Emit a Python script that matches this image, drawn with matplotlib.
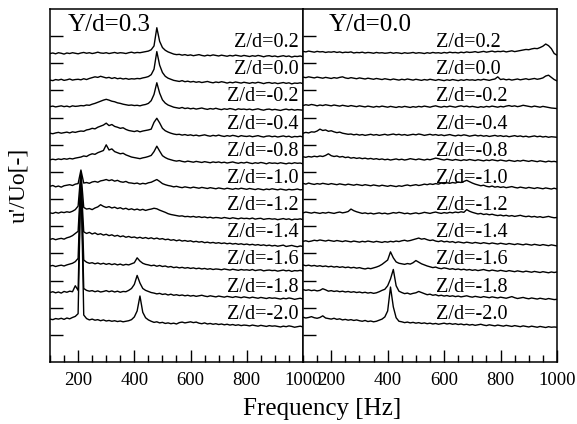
import numpy as np
import matplotlib
matplotlib.use("Agg")
import matplotlib.pyplot as plt
from matplotlib.ticker import MultipleLocator

plt.rcParams['font.family'] = ['Liberation Serif', 'DejaVu Serif']

# frequency grid of the traces, 100..1000 Hz every 10 Hz
freq = np.arange(100, 1001, 10)

z_labels = ["Z/d=0.2", "Z/d=0.0", "Z/d=-0.2", "Z/d=-0.4", "Z/d=-0.8", "Z/d=-1.0",
            "Z/d=-1.2", "Z/d=-1.4", "Z/d=-1.6", "Z/d=-1.8", "Z/d=-2.0"]
panel_titles = ["Y/d=0.3", "Y/d=0.0"]

# amplitudes, in hundredths of one offset step
# ---- Y/d=0.3 ----
L_02 = [0, 2, -1, 3, 1, -2, 2, 0, 3, 1,
        -1, 2, 4, 1, 3, 0, 2, 5, 2, 1,
        3, 0, 2, 4, 1, 3, 2, 0, 3, 5,
        2, 4, 3, 5, 7, 9, 14, 28, 95, 45,
        22, 12, 6, 2, -2, -4, -3, -6, -4, -7,
        -5, -8, -6, -4, -7, -9, -6, -8, -5, -7,
        -9, -6, -8, -10, -7, -9, -6, -8, -10, -7,
        -9, -11, -8, -10, -7, -9, -12, -9, -8, -11,
        -9, -12, -10, -8, -11, -9, -13, -10, -11, -9,
        -12]
L_00 = [0, -2, 2, 0, 3, -1, 1, 4, 0, 2,
        3, 1, 5, 2, 6, 9, 12, 10, 14, 11,
        8, 10, 6, 9, 5, 7, 4, 6, 3, 5,
        4, 6, 5, 8, 10, 13, 20, 40, 105, 55,
        28, 14, 7, 3, -1, -3, -5, -2, -6, -4,
        -7, -5, -8, -6, -9, -7, -5, -8, -10, -7,
        -9, -6, -8, -11, -8, -10, -7, -9, -11, -8,
        -10, -12, -9, -11, -8, -10, -13, -10, -9, -12,
        -10, -13, -11, -9, -12, -10, -14, -11, -12, -10,
        -13]
L_m02 = [0, 2, -1, 1, 3, 0, 2, -1, 3, 1,
         2, 4, 3, 6, 5, 9, 12, 16, 20, 24,
         27, 24, 20, 18, 14, 12, 9, 7, 5, 6,
         4, 5, 3, 6, 8, 12, 22, 45, 88, 50,
         25, 13, 6, 2, -2, -4, -6, -3, -7, -5,
         -8, -6, -9, -7, -5, -8, -10, -7, -9, -6,
         -9, -11, -8, -10, -7, -9, -12, -8, -10, -9,
         -11, -9, -12, -10, -8, -11, -13, -10, -9, -12,
         -10, -12, -14, -11, -9, -12, -10, -13, -11, -12,
         -13]
L_m04 = [0, -2, 1, 3, 0, 2, 4, 1, 5, 3,
         6, 8, 7, 12, 14, 18, 16, 22, 26, 30,
         37, 28, 32, 25, 22, 18, 20, 14, 10, 8,
         6, 9, 5, 8, 10, 12, 15, 40, 55, 38,
         18, 9, 4, 0, -3, -5, -4, -7, -5, -8,
         -6, -9, -7, -10, -8, -6, -9, -11, -8, -10,
         -7, -10, -12, -9, -11, -8, -10, -13, -9, -11,
         -12, -10, -13, -11, -9, -12, -14, -11, -10, -13,
         -11, -14, -12, -10, -13, -11, -15, -12, -13, -11,
         -14]
L_m08 = [0, 2, 0, 3, 1, 4, 2, 5, 3, 6,
         8, 10, 14, 12, 18, 22, 20, 26, 30, 34,
         55, 36, 40, 30, 26, 22, 24, 18, 14, 10,
         8, 6, 4, 7, 9, 12, 16, 30, 50, 32,
         15, 8, 3, 0, -3, -5, -3, -6, -8, -5,
         -7, -9, -6, -8, -10, -7, -9, -11, -8, -10,
         -8, -11, -9, -12, -10, -8, -11, -13, -10, -12,
         -9, -12, -14, -11, -13, -10, -12, -15, -11, -13,
         -12, -14, -11, -13, -15, -12, -14, -11, -13, -12,
         -15]
L_m10 = [0, 3, -2, 1, -3, 2, 4, 6, 3, 8,
         10, 60, 12, 14, 11, 16, 18, 15, 20, 22,
         25, 21, 24, 19, 22, 17, 15, 18, 13, 12,
         10, 12, 8, 11, 9, 13, 15, 20, 25, 18,
         10, 6, 3, 1, -2, 0, -3, -5, -2, -4,
         -6, -3, -5, -7, -4, -6, -8, -5, -7, -9,
         -6, -8, -10, -7, -9, -11, -8, -10, -7, -9,
         -11, -8, -10, -12, -9, -11, -13, -10, -12, -9,
         -11, -13, -10, -12, -14, -11, -13, -12, -10, -13,
         -12]
L_m12 = [0, -2, 2, -1, 3, 1, 4, 2, 6, 12,
         25, 150, 20, 14, 16, 12, 18, 22, 30, 24,
         20, 23, 18, 21, 16, 19, 14, 17, 12, 15,
         11, 14, 10, 13, 9, 12, 14, 17, 15, 10,
         6, 2, -3, -6, -8, -10, -12, -11, -14, -13,
         -15, -13, -16, -14, -17, -15, -18, -16, -19, -17,
         -18, -20, -17, -19, -21, -18, -20, -22, -19, -21,
         -20, -22, -19, -23, -21, -20, -24, -22, -21, -23,
         -22, -25, -23, -21, -24, -22, -26, -23, -24, -22,
         -25]
L_m14 = [0, 3, -1, 2, 4, 1, 6, 9, 14, 22,
         30, 220, 28, 22, 26, 20, 24, 18, 21, 16,
         19, 14, 17, 12, 15, 10, 13, 8, 11, 7,
         9, 5, 8, 4, 7, 3, 6, 2, 5, 1,
         3, -1, 1, -3, -1, -5, -2, -6, -4, -7,
         -5, -9, -7, -10, -8, -12, -10, -13, -11, -14,
         -12, -15, -13, -16, -14, -17, -15, -18, -16, -19,
         -17, -20, -18, -21, -19, -22, -20, -23, -21, -24,
         -22, -25, -23, -21, -26, -24, -22, -25, -27, -24,
         -26]
L_m16 = [0, 2, -2, 1, 3, 0, 4, 7, 10, 16,
         28, 330, 22, 14, 10, 12, 8, 11, 7, 10,
         6, 9, 5, 8, 4, 7, 3, 6, 4, 8,
         12, 30, 18, 10, 6, 4, 1, 3, -1, 2,
         -2, 0, -4, -2, -6, -4, -7, -5, -8, -6,
         -9, -7, -10, -8, -11, -9, -12, -10, -13, -11,
         -12, -14, -11, -13, -15, -12, -14, -16, -13, -15,
         -14, -16, -13, -17, -15, -14, -18, -16, -15, -17,
         -16, -19, -17, -15, -18, -16, -20, -17, -18, -16,
         -19]
L_m18 = [0, 3, -1, 2, -2, 4, 1, 5, 3, 25,
         8, 440, 15, 8, 5, 7, 3, 6, 2, 4,
         7, 3, 6, 2, 5, 1, 4, 3, 8, 15,
         30, 63, 35, 15, 8, 4, 0, -2, -5, -3,
         -7, -5, -9, -6, -10, -8, -11, -9, -12, -10,
         -13, -11, -14, -12, -10, -13, -15, -12, -14, -16,
         -13, -15, -17, -14, -16, -18, -15, -17, -19, -16,
         -18, -20, -17, -19, -21, -18, -20, -22, -19, -21,
         -20, -22, -24, -21, -23, -20, -22, -25, -23, -21,
         -24]
L_m20 = [0, -2, 2, 0, 3, -1, 4, 1, 6, 10,
         20, 540, 15, 2, -3, 0, -4, -2, -6, -3,
         -7, -5, -8, -6, -9, -7, -10, -8, -6, -2,
         8, 30, 85, 25, 5, -3, -8, -12, -10, -14,
         -12, -16, -14, -17, -15, -18, -13, -11, -14, -12,
         -10, -13, -11, -15, -17, -14, -18, -16, -19, -17,
         -20, -18, -21, -19, -22, -20, -23, -21, -24, -22,
         -23, -25, -22, -24, -26, -23, -25, -27, -24, -26,
         -25, -27, -29, -26, -28, -25, -27, -30, -28, -26,
         -29]

# ---- Y/d=0.0 ----
R_02 = [8, 6, 9, 7, 5, 8, 6, 7, 4, 6,
        5, 7, 4, 6, 3, 5, 4, 6, 2, 4,
        3, 5, 2, 4, 3, 1, 4, 2, 3, 1,
        2, 4, 1, 3, 2, 0, 3, 1, 2, 4,
        1, 3, 2, 0, 3, 1, 4, 2, 3, 1,
        4, 2, 5, 3, 4, 2, 5, 3, 6, 4,
        5, 7, 4, 6, 8, 5, 7, 9, 6, 8,
        7, 9, 6, 8, 10, 7, 9, 11, 13, 15,
        14, 17, 19, 18, 22, 27, 35, 29, 18, 0,
        -6]
R_00 = [11, 9, 12, 10, 8, 11, 9, 7, 10, 8,
        6, 9, 7, 10, 12, 8, 6, 9, 7, 5,
        8, 6, 4, 7, 5, 3, 6, 4, 2, 5,
        3, 1, 4, 2, 0, 3, 1, 4, 2, 0,
        3, 1, -1, 2, 0, 3, 1, -1, 2, 0,
        -2, 1, -1, 2, 0, -2, 1, -1, 2, 0,
        1, -1, 2, 0, 3, 1, -1, 2, 4, 12,
        2, 4, 1, 3, 0, 2, 4, 1, 3, 5,
        2, 4, 6, 3, 5, 8, 15, 18, 10, 2,
        -3]
R_m02 = [4, 7, 5, 8, 6, 3, 6, 4, 7, 5,
         3, 6, 4, 2, 5, 3, 1, 4, 2, 0,
         3, 1, -1, 2, 0, -2, 1, -1, 2, 0,
         -2, 1, -1, -3, 0, -2, 1, -1, -3, 0,
         -2, 1, -1, 2, 0, -2, 1, 3, 0, -2,
         1, -1, 2, 0, -2, 1, 3, 0, 2, -1,
         1, -1, -3, 0, -2, 1, -1, 2, 0, -2,
         1, -1, 2, 4, 1, 3, 0, 2, 5, 3,
         1, -1, 2, 0, -2, 1, -1, -3, -5, -6,
         -7]
R_m04 = [0, 3, 1, 5, 4, 8, 15, 10, 12, 7,
         9, 5, 2, 4, 0, -2, -4, -3, -6, -4,
         -7, -5, -8, -6, -4, -7, -5, -8, -6, -4,
         -7, -5, -3, -6, -4, -7, -5, -8, -6, -4,
         -6, -3, -5, -8, -6, -4, -7, -5, -8, -6,
         -9, -7, -5, -8, -10, -7, -9, -6, -8, -11,
         -9, -7, -10, -8, -11, -9, -12, -10, -8, -11,
         -9, -12, -10, -13, -11, -9, -12, -10, -13, -11,
         -14, -12, -10, -13, -11, -14, -12, -15, -13, -14,
         -15]
R_m08 = [11, 9, 12, 10, 13, 11, 14, 12, 16, 22,
         15, 12, 14, 10, 12, 8, 10, 6, 8, 5,
         7, 4, 6, 3, 5, 2, 4, 1, 3, 0,
         2, -1, 1, 3, 0, 2, -1, 1, 4, 2,
         0, 3, 1, -1, 2, 0, 3, 6, 4, 1,
         -1, 2, 0, -2, 1, -1, -3, 0, -2, 1,
         -1, -3, 0, -2, -4, -1, -3, 0, -2, -4,
         -1, -3, -5, -2, -4, -6, -3, -5, -2, -4,
         -6, -3, -5, -7, -4, -6, -8, -5, -7, -6,
         -8]
R_m10 = [11, 8, 12, 9, 7, 10, 8, 11, 9, 7,
         10, 8, 6, 9, 7, 5, 8, 6, 4, 7,
         5, 3, 6, 4, 2, 5, 3, 1, 4, 2,
         0, 3, 1, -1, 2, 0, 3, 5, 2, 4,
         6, 3, 5, 8, 6, 9, 7, 10, 8, 12,
         10, 13, 11, 14, 12, 16, 14, 18, 22, 17,
         12, 8, 5, 2, 4, 0, -2, 1, -3, -1,
         -4, -2, -5, -3, -1, -4, -6, -3, -5, -7,
         -4, -6, -8, -5, -7, -9, -6, -8, -10, -7,
         -10]
R_m12 = [0, 3, 1, -1, 2, 0, -2, 1, -1, 2,
         0, -2, 1, 3, 0, 2, 5, 14, 8, 4,
         1, -2, 0, -3, -1, -4, -2, 0, -3, -1,
         -4, -2, 1, -1, 2, 0, -3, -1, -4, -2,
         0, -3, -1, 2, 0, -2, 1, 3, 0, -2,
         1, -1, 2, 0, 3, 1, 4, 2, 12, 6,
         2, -1, -4, -2, -6, -4, -7, -5, -8, -10,
         -8, -11, -9, -12, -10, -13, -11, -9, -12, -14,
         -12, -15, -13, -16, -14, -17, -15, -13, -16, -18,
         -17]
R_m14 = [-7, -5, -8, -6, -3, -5, -2, -4, -6, -3,
         -5, -7, -4, -6, -8, -5, -7, -9, -6, -8,
         -10, -7, -9, -6, -8, -10, -7, -9, -11, -8,
         -10, -7, -9, -6, -8, -5, -3, -6, -4, -1,
         2, 5, 1, 3, -1, -4, -2, -6, -8, -5,
         -9, -7, -10, -8, -12, -9, -11, -13, -10, -12,
         -14, -11, -13, -15, -12, -14, -16, -13, -15, -17,
         -14, -16, -18, -15, -17, -19, -16, -18, -20, -17,
         -19, -21, -18, -20, -22, -19, -21, -23, -20, -22,
         -24]
R_m16 = [4, 1, 3, 0, 2, -1, 1, -2, 0, -3,
         -1, -4, -2, -5, -3, -6, -4, -7, -5, -8,
         -6, -9, -11, -8, -10, -7, -4, 0, 6, 14,
         22, 52, 30, 15, 10, 8, 6, 9, 7, 12,
         20, 14, 8, 4, 0, -3, -6, -4, -8, -10,
         -7, -9, -12, -10, -13, -11, -14, -12, -15, -13,
         -16, -14, -17, -15, -13, -16, -18, -15, -17, -19,
         -16, -18, -20, -17, -19, -21, -18, -20, -22, -19,
         -21, -23, -20, -22, -24, -21, -23, -25, -22, -24,
         -22]
R_m18 = [11, 8, 10, 7, 9, 6, 8, 14, 10, 5,
         7, 4, 6, 3, 5, 2, 4, 1, 3, 0,
         2, -1, 1, -2, 0, -3, -1, 3, 8, 12,
         25, 50, 85, 25, 5, 0, -4, -2, -6, -3,
         -1, 4, 0, -4, -8, -6, -10, -8, -12, -10,
         -13, -11, -14, -12, -15, -13, -16, -14, -12, -15,
         -17, -14, -16, -18, -15, -17, -19, -16, -18, -20,
         -17, -19, -21, -18, -15, -19, -22, -20, -18, -21,
         -23, -20, -22, -24, -21, -23, -25, -22, -24, -26,
         -25]
R_m20 = [7, 4, 6, 9, 5, 3, 6, 12, 4, 2,
         0, 3, -1, 1, -3, -1, -4, -2, -5, -3,
         -6, -8, -5, -9, -7, -10, -8, -4, 0, 8,
         30, 118, 45, 5, -8, -10, -13, -11, -14, -12,
         -15, -13, -16, -14, -17, -15, -18, -16, -19, -17,
         -15, -18, -16, -19, -17, -20, -18, -21, -19, -22,
         -20, -23, -21, -19, -22, -24, -21, -23, -25, -22,
         -24, -26, -23, -25, -27, -24, -26, -28, -25, -27,
         -29, -26, -28, -30, -27, -29, -31, -28, -30, -29,
         -30]

left_traces = [L_02, L_00, L_m02, L_m04, L_m08, L_m10, L_m12, L_m14, L_m16, L_m18, L_m20]
right_traces = [R_02, R_00, R_m02, R_m04, R_m08, R_m10, R_m12, R_m14, R_m16, R_m18, R_m20]


def draw_panel(ax, traces, title, title_x, label_x, label_ha):
    for i, (lab, vals) in enumerate(zip(z_labels, traces)):
        assert len(vals) == len(freq), (title, lab, len(vals))
        base = 11.36 - 0.978 * i
        ax.plot(freq, base + np.array(vals) / 100.0, color='black', lw=1.0)
        ax.text(label_x, 11.76 - 1.0 * i, lab, ha=label_ha, va='center', fontsize=14.5)
    ax.text(title_x, 0.955, title, transform=ax.transAxes,
            ha='left', va='center', fontsize=18)
    ax.set_xlim(100, 1000)
    ax.set_ylim(0, 13)
    ax.set_xticks([200, 400, 600, 800, 1000])
    ax.xaxis.set_minor_locator(MultipleLocator(50))
    ax.set_yticks(np.arange(1, 13))
    ax.tick_params(axis='x', which='major', direction='in', length=9, width=1,
                   labelsize=13.5, pad=7, top=False)
    ax.tick_params(axis='x', which='minor', direction='in', length=5, width=1, top=False)
    ax.tick_params(axis='y', which='major', direction='in', length=9, width=1,
                   labelleft=False, right=False)
    for sp in ax.spines.values():
        sp.set_linewidth(1.1)


fig = plt.figure(figsize=(5.77, 4.24), dpi=100)
axL = fig.add_axes([50 / 577, 62 / 424, 253 / 577, 353 / 424])
axR = fig.add_axes([303 / 577, 62 / 424, 254 / 577, 353 / 424])

draw_panel(axL, left_traces, panel_titles[0], 0.07, 985, 'right')
draw_panel(axR, right_traces, panel_titles[1], 0.1, 573, 'left')

fig.text(322 / 577, 1 - 409 / 424, "Frequency [Hz]", ha='center', va='center', fontsize=18)
fig.text(19 / 577, 1 - 185 / 424, "u'/Uo[-]", ha='center', va='center', rotation=90, fontsize=17)

fig.savefig("out.png", dpi=100)
